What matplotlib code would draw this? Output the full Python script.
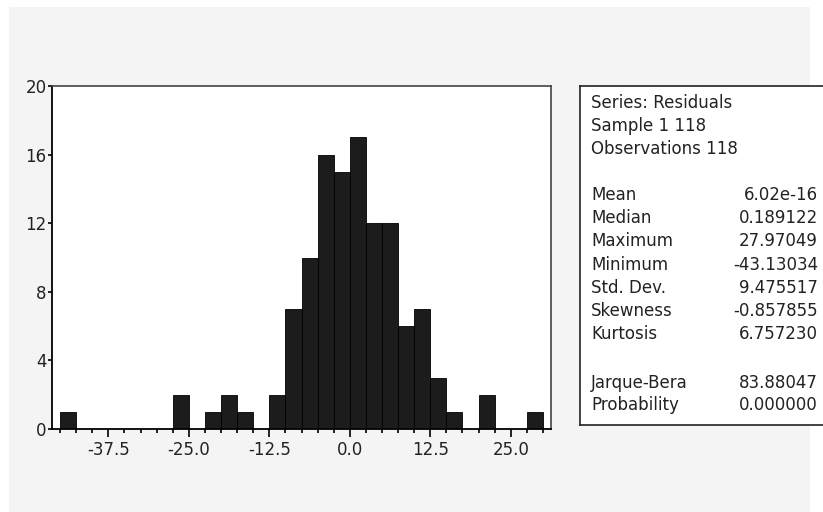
import numpy as np
import matplotlib
matplotlib.use("Agg")
import matplotlib.pyplot as plt
from matplotlib.patches import Rectangle

# residual histogram: bins of width 2.5 starting at -45
bin_width = 2.5
bin_starts = [-45.0, -42.5, -40.0, -37.5, -35.0, -32.5, -30.0, -27.5, -25.0, -22.5,
              -20.0, -17.5, -15.0, -12.5, -10.0, -7.5, -5.0, -2.5, 0.0, 2.5,
              5.0, 7.5, 10.0, 12.5, 15.0, 17.5, 20.0, 22.5, 25.0, 27.5]
counts = [1, 0, 0, 0, 0, 0, 0, 2, 0, 1,
          2, 1, 0, 2, 7, 10, 16, 15, 17, 12,
          12, 6, 7, 3, 1, 0, 2, 0, 0, 1]

stat_header = ["Series: Residuals", "Sample 1 118", "Observations 118"]
stat_names = ["Mean", "Median", "Maximum", "Minimum", "Std. Dev.", "Skewness", "Kurtosis"]
stat_values = ["6.02e-16", "0.189122", "27.97049", "-43.13034", "9.475517", "-0.857855", "6.757230"]
test_names = ["Jarque-Bera", "Probability"]
test_values = ["83.88047", "0.000000"]

W, H = 823, 512
plt.rcParams['font.family'] = ['DejaVu Sans']
fig = plt.figure(figsize=(W / 100, H / 100), dpi=100, facecolor='white')

def px(x0, y0, x1, y1):
    # pixel box (top-left origin) -> figure fraction rect
    return [x0 / W, 1 - y1 / H, (x1 - x0) / W, (y1 - y0) / H]

# faint grey panel behind everything
fig.patches.append(Rectangle((9 / W, 0), 801 / W, 1 - 7 / H, transform=fig.transFigure,
                             facecolor='#f4f4f4', edgecolor='none', zorder=-5))

ax = fig.add_axes(px(52, 86, 551, 429))
ax.set_facecolor('white')
ax.bar(bin_starts, counts, width=bin_width, align='edge',
       color='#1c1c1c', edgecolor='#000000', linewidth=0.6)

ax.set_xlim(-46.25, 31.25)
ax.set_ylim(0, 20)
ax.set_xticks([-37.5, -25.0, -12.5, 0.0, 12.5, 25.0])
ax.set_xticklabels(['-37.5', '-25.0', '-12.5', '0.0', '12.5', '25.0'])
ax.set_xticks(np.arange(-45, 30.1, 2.5), minor=True)
ax.set_yticks([0, 4, 8, 12, 16, 20])
ax.tick_params(axis='x', which='major', direction='out', length=5.5, width=1.2,
               labelsize=12, pad=3, labelcolor='#222222')
ax.tick_params(axis='x', which='minor', direction='out', length=3, width=1.2)
ax.tick_params(axis='y', direction='out', length=3, width=1.2, labelsize=12, pad=1,
               labelcolor='#222222')
for side in ('left', 'bottom'):
    ax.spines[side].set_color('black')
    ax.spines[side].set_linewidth(1.3)
for side in ('top', 'right'):
    ax.spines[side].set_color('#444444')
    ax.spines[side].set_linewidth(1.2)

# summary statistics box, laid out in pixel units
box = fig.add_axes(px(580, 86, 835, 425))
box.set_xlim(580, 835)
box.set_ylim(425, 86)
box.set_xticks([])
box.set_yticks([])
box.set_facecolor('white')
for s in box.spines.values():
    s.set_color('#222222')
    s.set_linewidth(1.2)

lx, rx = 591, 818
fs = 12
tc = '#222222'
for i, t in enumerate(stat_header):
    box.text(lx, 103 + i * 23, t, fontsize=fs, va='center', ha='left', color=tc)
for i, (n, v) in enumerate(zip(stat_names, stat_values)):
    y = 195 + i * 23.2
    box.text(lx, y, n, fontsize=fs, va='center', ha='left', color=tc)
    box.text(rx, y, v, fontsize=fs, va='center', ha='right', color=tc)
for i, (n, v) in enumerate(zip(test_names, test_values)):
    y = 383 + i * 22.5
    box.text(lx, y, n, fontsize=fs, va='center', ha='left', color=tc)
    box.text(rx, y, v, fontsize=fs, va='center', ha='right', color=tc)

fig.savefig('out.png', dpi=100, facecolor='white')
